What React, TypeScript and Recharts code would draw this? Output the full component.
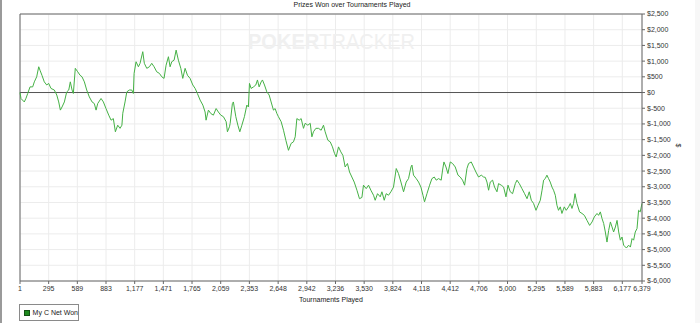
import {
  LineChart,
  Line,
  XAxis,
  YAxis,
  CartesianGrid,
  ReferenceLine,
} from "recharts";

const tournaments = [
  1, 11, 45, 63, 80, 104, 131, 148, 172, 193, 206, 226, 250, 275, 295, 319, 353, 378, 398, 415, 432, 456, 480, 501,
  517, 535, 548, 568, 593, 617, 637, 661, 685, 712, 740, 763, 781, 798, 832, 856, 883, 911, 935, 958, 979, 1003, 1027,
  1046, 1055, 1078, 1096, 1122, 1147, 1163, 1171, 1191, 1215, 1232, 1260, 1276, 1301, 1328, 1352, 1376, 1403, 1430,
  1455, 1478, 1499, 1523, 1540, 1557, 1581, 1602, 1625, 1650, 1670, 1694, 1718, 1745, 1773, 1797, 1820, 1848, 1876,
  1899, 1909, 1933, 1958, 1984, 2012, 2035, 2060, 2087, 2115, 2128, 2149,
  2156, 2179, 2189, 2214, 2235, 2255, 2276, 2302, 2327, 2343, 2354, 2371, 2395, 2419, 2436, 2453, 2474, 2487, 2508,
  2532, 2556, 2576, 2600, 2617, 2635, 2651, 2679, 2703, 2727, 2754, 2781, 2805, 2823, 2840, 2864, 2884, 2908, 2925,
  2953, 2977, 2994, 3010, 3035, 3062, 3089, 3113, 3130, 3158, 3182, 3205, 3226,
  3243, 3267, 3291, 3312, 3335, 3359, 3380, 3404, 3428, 3456, 3482, 3507, 3523, 3551, 3575, 3599, 3626, 3643, 3667,
  3695, 3712, 3736, 3756, 3780, 3804, 3831, 3859, 3882, 3907, 3934, 3961, 3985, 4010, 4020, 4036, 4064, 4088, 4112,
  4133, 4149, 4174, 4201, 4225, 4249, 4269, 4293,
  4320, 4334, 4348, 4369, 4389, 4413, 4437, 4464, 4492, 4515, 4539, 4560, 4584, 4601, 4628, 4652, 4676, 4703, 4731,
  4755, 4772, 4789, 4806, 4823, 4847, 4867, 4892, 4908, 4936, 4960, 4984, 5005, 5028, 5052, 5080, 5097, 5121, 5148,
  5175, 5200, 5223, 5244, 5267, 5292, 5313, 5336, 5354, 5370,
  5387, 5404, 5421, 5438, 5456, 5472, 5490, 5507, 5523, 5541, 5558, 5582, 5602, 5626, 5644, 5661, 5677, 5692, 5712,
  5739, 5764, 5788, 5815, 5842, 5867, 5890, 5918, 5934, 5952, 5969, 5986, 6003, 6020, 6037, 6055, 6072, 6088, 6106,
  6123, 6140, 6157, 6174, 6191, 6219, 6242, 6260, 6277, 6293, 6310, 6328, 6344, 6361, 6379,
];

const netWon = [
  0, -190, -300, -180, -30, 180, 180, 340, 500, 820, 710, 550, 340, 240, 290, 130, 80, -80, -300, -560, -460, -300, 20,
  80, 340, 80, -30, 770, 660, 550, 500, 340, 80, -140, -300, -350, -560, -350, -190, -300, -510, -720, -880, -830,
  -1250, -1040, -1140,
  -1040, -660, -300, 20, 80, 80, -30, 610, 980, 820, 930, 1300, 930, 770, 820, 930, 820, 660, 610, 500, 450, 870, 1140,
  820, 980, 1030, 1350, 1030, 770, 450, 770, 550, 450, 240, 130, -30, -240, -400, -620, -880, -560, -670, -720, -510,
  -620, -720, -770, -930, -1250, -1090,
  -980, -350, -300, -770, -1040, -1250, -1040, -770, -400, -460, 290, 130, 180, 240, 400, 180, 340, 400, 240, 20, -80,
  -300, -560, -510, -670, -770, -930, -1200, -1520, -1840, -1620, -1570, -1410, -830, -880, -830, -1140, -980, -1040,
  -980, -1410, -1250, -1140, -1140, -1200, -1040, -1250, -1520, -1570, -1730, -1940,
  -2050, -1730, -1890, -2000, -2370, -2260, -2530, -2690, -2850, -3110, -3380, -3340, -2950, -3060, -2950, -3110,
  -3270, -3430, -3220, -3320, -3160, -3430, -3220, -3270, -3160, -3010, -2420, -2580, -2850, -3160, -2850, -2740,
  -2370, -2310, -2630, -2740, -2850, -3010, -3270, -3480, -3220, -2950, -2740, -2690, -2790, -2740,
  -2790, -2470, -2210, -2370, -2580, -2210, -2260, -2370, -2630, -2690, -2790, -2950, -2420, -2260, -2210, -2370,
  -2530, -2690, -2630, -2690, -2700, -2850, -3110, -2850, -2790, -3010, -3160, -2900, -2950, -3010, -3320, -2950,
  -3160, -3220, -2900, -2790, -2900, -3060, -3220, -3380, -3160, -3430, -3530, -3750, -3590, -3430, -3110, -2790,
  -2740, -2630, -2740, -2850, -3010, -3110, -3270, -3590, -3750, -3640, -3850, -3640, -3750, -3640, -3530, -3690,
  -3530, -3220, -3530, -3800, -3850, -3910, -4070, -4230, -4120, -3960, -3850, -3910, -3800, -4010, -4170, -4440,
  -4760, -4390, -4120, -4280, -4440, -4280, -4070, -4440, -4700, -4600, -4860, -4950, -4860, -4920, -4650, -4700,
  -4440, -4330, -3750, -3800, -3530,
];

const xTicks = [
  1, 295, 589, 883, 1177, 1471, 1765, 2059, 2353, 2648, 2942, 3236, 3530, 3824, 4118, 4412, 4706, 5000, 5295, 5589,
  5883, 6177, 6379,
];

const yTicks = [
  -6000, -5500, -5000, -4500, -4000, -3500, -3000, -2500, -2000, -1500, -1000, -500, 0, 500, 1000, 1500, 2000, 2500,
];

const seriesName = "My C Net Won";
const font = '"Liberation Sans", Arial, sans-serif';
const green = "#45b145";

const data = tournaments.map((t, i) => ({ t, v: netWon[i] }));

const fmtMoney = (v: number) => (v < 0 ? "$-" : "$") + Math.abs(v).toLocaleString("en-US");

export default function App() {
  return (
    <div style={{ position: "absolute", left: 0, top: 0, width: 700, height: 323, background: "#fff" }}>
      <div style={{ position: "absolute", left: 0, top: 0, width: 2, height: 323, background: "#9a9a9a" }} />
      <div style={{ position: "absolute", left: 695, top: 0, width: 5, height: 323, background: "#f7f7f7" }} />
      <LineChart
        width={700}
        height={323}
        data={data}
        margin={{ top: 14, right: 0, left: 20, bottom: 22 }}
        style={{ fontFamily: font }}
      >
        <CartesianGrid stroke="#ececec" strokeWidth={1} />
        <XAxis
          dataKey="t"
          type="number"
          domain={[1, 6379]}
          ticks={xTicks}
          interval={0}
          tickFormatter={(v: number) => v.toLocaleString("en-US")}
          tick={{ fill: "#333", fontSize: 7 }}
          tickSize={3}
          tickMargin={2}
          stroke="#666"
          height={20}
          label={{ value: "Tournaments Played", position: "insideBottom", offset: -1, fill: "#222", fontSize: 7 }}
        />
        <YAxis
          orientation="right"
          type="number"
          domain={[-6000, 2500]}
          ticks={yTicks}
          interval={0}
          tickFormatter={fmtMoney}
          tick={{ fill: "#333", fontSize: 7, textAnchor: "start" }}
          tickSize={3}
          tickMargin={2}
          stroke="#666"
          width={58}
          label={{ value: "$", angle: 90, position: "insideRight", offset: 22, fill: "#333", fontSize: 7 }}
        />
        <ReferenceLine y={2500} stroke="#666" />
        <ReferenceLine x={1} stroke="#666" />
        <ReferenceLine y={0} stroke="#555" />
        <Line
          type="linear"
          dataKey="v"
          name={seriesName}
          stroke={green}
          strokeWidth={1}
          dot={false}
          isAnimationActive={false}
        />
      </LineChart>
      <div
        style={{
          position: "absolute",
          left: 19,
          top: 304,
          display: "flex",
          alignItems: "center",
          border: "1px solid #8a8a8a",
          width: 60,
          height: 17,
          boxSizing: "border-box",
          paddingLeft: 4,
          fontFamily: font,
          fontSize: 7,
          whiteSpace: "nowrap",
          color: "#222",
          background: "#fff",
        }}
      >
        <span
          style={{ width: 4, height: 4, background: "#1f8a1f", border: "0.5px solid #145214", marginRight: 3 }}
        />
        {seriesName}
      </div>
      <svg
        width={700}
        height={323}
        style={{ position: "absolute", left: 0, top: 0, pointerEvents: "none" }}
      >
        <text x={352} y={7} textAnchor="middle" fontFamily={font} fontSize={7} fill="#222">
          Prizes Won over Tournaments Played
        </text>
        <text x={248} y={49} fontFamily={font} fontSize={22} textLength={167} lengthAdjust="spacingAndGlyphs" fill="#f0f0f0">
          <tspan fontWeight="bold">POKER</tspan>
          <tspan>TRACKER</tspan>
        </text>
      </svg>
    </div>
  );
}
